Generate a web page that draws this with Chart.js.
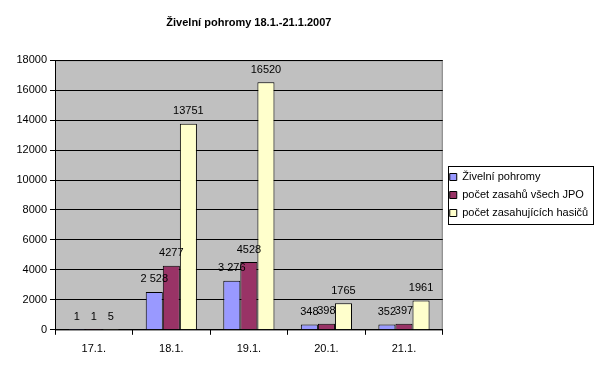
<!DOCTYPE html>
<html>
<head>
<meta charset="utf-8">
<script src="https://cdn.jsdelivr.net/npm/chart.js@4"></script>
<style>
  body { margin: 0; background: #fff; }
  #wrap { width: 604px; height: 371px; }
</style>
</head>
<body>
<div id="wrap"><canvas id="graf"></canvas></div>
<script>
// data z grafu
var dny = ["17.1.", "18.1.", "19.1.", "20.1.", "21.1."];
var pohromy = [1, 2528, 3276, 348, 352];
var zasahyJPO = [1, 4277, 4528, 398, 397];
var hasici = [5, 13751, 16520, 1765, 1961];
var yTicks = [0, 2000, 4000, 6000, 8000, 10000, 12000, 14000, 16000, 18000];

var pismo = "'Liberation Sans', Arial, sans-serif";

function formatHodnoty(v, mezera) {
    var s = String(v);
    if (mezera) s = s.replace(/\B(?=(\d{3})+(?!\d))/g, " ");
    return s;
}

// seda plocha grafu
const pozadi = {
    id: "pozadi",
    beforeDraw(chart) {
        const a = chart.chartArea;
        const ctx = chart.ctx;
        ctx.save();
        ctx.fillStyle = "#C0C0C0";
        ctx.fillRect(a.left, a.top, a.right - a.left, a.bottom - a.top);
        ctx.strokeStyle = "#808080";
        ctx.lineWidth = 1;
        ctx.strokeRect(a.left + 0.5, a.top + 0.5, a.right - a.left - 1, a.bottom - a.top);
        ctx.restore();
    }
};

// hodnoty nad sloupci
const popisky = {
    id: "popisky",
    afterDatasetsDraw(chart) {
        const ctx = chart.ctx;
        ctx.save();
        ctx.font = "11px " + pismo;
        ctx.fillStyle = "#000";
        ctx.textAlign = "center";
        ctx.textBaseline = "bottom";
        chart.data.datasets.forEach(function (ds, i) {
            chart.getDatasetMeta(i).data.forEach(function (bar, j) {
                ctx.fillText(formatHodnoty(ds.data[j], ds.mezera), bar.x, bar.y - 7);
            });
        });
        ctx.restore();
    }
};

// ramecek kolem legendy
const ramecekLegendy = {
    id: "ramecekLegendy",
    afterDraw(chart) {
        const boxes = chart.legend.legendHitBoxes;
        if (!boxes || !boxes.length) return;
        var minX = Infinity, maxX = -Infinity, minY = Infinity, maxY = -Infinity;
        boxes.forEach(function (b) {
            minX = Math.min(minX, b.left);
            maxX = Math.max(maxX, b.left + b.width);
            minY = Math.min(minY, b.top);
            maxY = Math.max(maxY, b.top + b.height);
        });
        const ctx = chart.ctx;
        ctx.save();
        ctx.strokeStyle = "#000";
        ctx.lineWidth = 1;
        var x0 = Math.round(minX - 2), y0 = Math.round(minY - 6);
        var x1 = Math.round(maxX + 5), y1 = Math.round(maxY + 5);
        ctx.strokeRect(x0 + 0.5, y0 + 0.5, x1 - x0, y1 - y0);
        ctx.restore();
    }
};

const ctx = document.getElementById("graf").getContext("2d");
new Chart(ctx, {
    type: "bar",
    data: {
        labels: dny,
        datasets: [
            { label: "Živelní pohromy", data: pohromy, backgroundColor: "#9999FF", mezera: true },
            { label: "počet zasahů všech JPO", data: zasahyJPO, backgroundColor: "#993366" },
            { label: "počet zasahujících hasičů", data: hasici, backgroundColor: "#FFFFCC" }
        ]
    },
    options: {
        responsive: true,
        maintainAspectRatio: false,
        animation: false,
        layout: { padding: { left: 4, right: 15, top: 10, bottom: 7 } },
        datasets: {
            bar: {
                borderColor: "#000",
                borderWidth: 1,
                categoryPercentage: 0.66,
                barPercentage: 1
            }
        },
        scales: {
            x: {
                grid: { offset: true, drawOnChartArea: false, color: "#000", tickLength: 5 },
                border: { color: "#000" },
                ticks: { color: "#000", font: { family: pismo, size: 11 }, padding: 8 }
            },
            y: {
                min: 0,
                max: 18000,
                afterBuildTicks: function (scale) {
                    scale.ticks = yTicks.map(function (v) { return { value: v }; });
                },
                afterFit: function (scale) { scale.width = 51; },
                grid: { color: "#000", tickLength: 5 },
                border: { color: "#000" },
                ticks: {
                    color: "#000",
                    font: { family: pismo, size: 11 },
                    padding: 3,
                    callback: function (v) { return String(v); }
                }
            }
        },
        plugins: {
            title: {
                display: true,
                text: "Živelní pohromy 18.1.-21.1.2007",
                fullSize: false,
                color: "#000",
                font: { family: pismo, size: 11, weight: "bold" },
                padding: { top: 6, bottom: 31 }
            },
            legend: {
                position: "right",
                fullSize: false,
                labels: {
                    color: "#000",
                    font: { family: pismo, size: 11 },
                    boxWidth: 7,
                    boxHeight: 7,
                    padding: 7
                }
            },
            tooltip: { enabled: false }
        }
    },
    plugins: [pozadi, popisky, ramecekLegendy]
});
</script>
</body>
</html>
